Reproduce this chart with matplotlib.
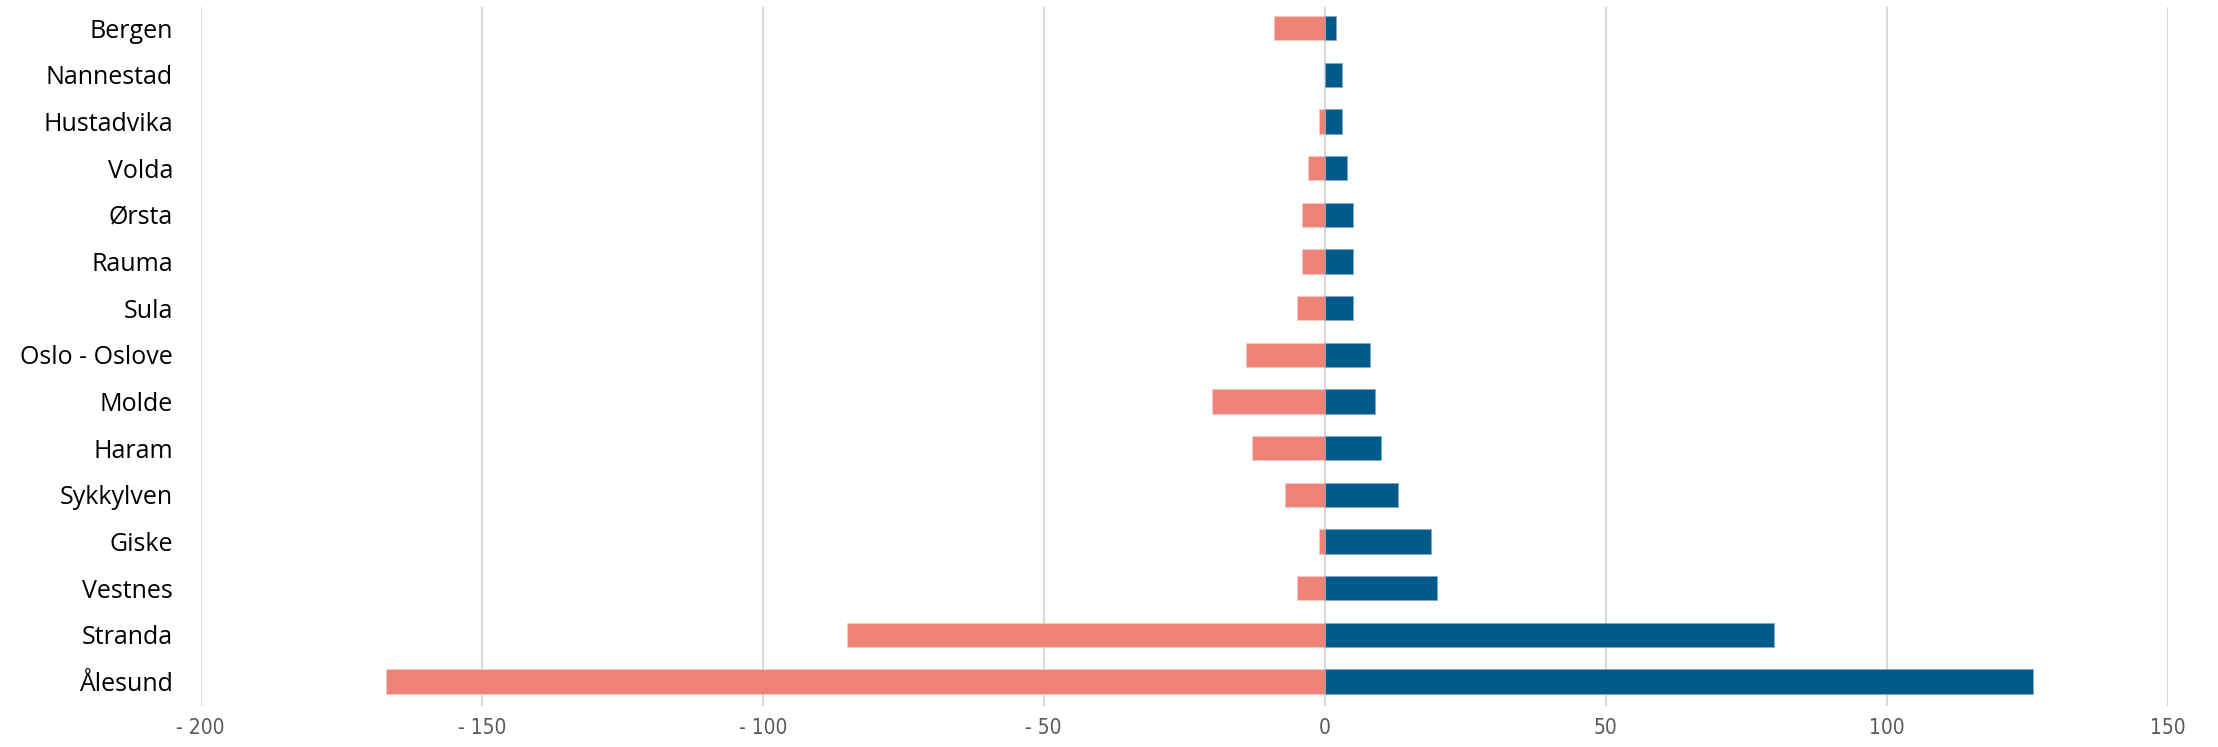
# Diverging bar chart: municipalities, negative vs positive

import numpy as np
import matplotlib.pyplot as plt
from matplotlib.ticker import FuncFormatter

municipalities = ['Bergen', 'Nannestad', 'Hustadvika', 'Volda', 'Ørsta', 'Rauma',
                  'Sula', 'Oslo - Oslove', 'Molde', 'Haram', 'Sykkylven', 'Giske',
                  'Vestnes', 'Stranda', 'Ålesund']
negative = [-9, 0, -1, -3, -4, -4, -5, -14, -20, -13, -7, -1, -5, -85, -167]
positive = [2, 3, 3, 4, 5, 5, 5, 8, 9, 10, 13, 19, 20, 80, 126]
x_ticks = [-200, -150, -100, -50, 0, 50, 100, 150]

red = '#F08377'
blue = '#005A8B'

fig = plt.figure(figsize=(22.18, 7.47), dpi=100)
ax = fig.add_axes([0.0905, 0.055, 0.8868, 0.9356])

y = np.arange(len(municipalities))[::-1]
ax.barh(y, negative, height=0.52, color=red, edgecolor='#F6C9C3', linewidth=0.6, zorder=3)
ax.barh(y, positive, height=0.52, color=blue, edgecolor='#7FA9C4', linewidth=0.6, zorder=3)

ax.set_xlim(-200, 150)
ax.set_ylim(-0.52, len(municipalities) - 0.55)
ax.set_xticks(x_ticks)
ax.xaxis.set_major_formatter(FuncFormatter(lambda v, p: f'- {abs(int(v))}' if v < 0 else f'{int(v)}'))
ax.set_yticks(y)
ax.set_yticklabels(municipalities, fontsize=18, family=['Open Sans', 'DejaVu Sans'])

for lbl in ax.get_xticklabels():
    lbl.set_fontsize(15)
    lbl.set_color('#595959')
    lbl.set_family(['Liberation Sans Narrow', 'DejaVu Sans'])
    lbl.set_stretch('condensed')

ax.grid(axis='x', color='#D9D9D9', linewidth=1.5, zorder=0)
ax.tick_params(axis='both', length=0)
ax.tick_params(axis='x', pad=9)
ax.tick_params(axis='y', pad=20)
for s in ax.spines.values():
    s.set_visible(False)

fig.savefig('out.png', dpi=100)
